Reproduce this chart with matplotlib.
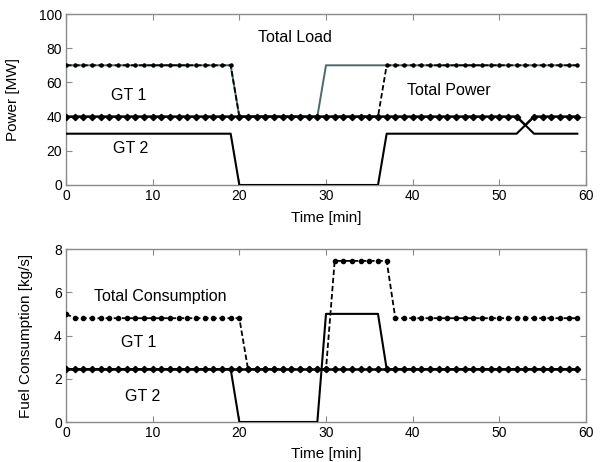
import matplotlib
matplotlib.use("Agg")
import matplotlib.pyplot as plt

plt.rcParams['font.family'] = ['Liberation Sans', 'DejaVu Sans']

time_min = list(range(60))

# Top panel: power [MW]
total_load = [70, 70, 70, 70, 70, 70, 70, 70, 70, 70, 70, 70, 70, 70, 70, 70, 70, 70, 70, 70,
              40, 40, 40, 40, 40, 40, 40, 40, 40, 40,
              70, 70, 70, 70, 70, 70, 70, 70, 70, 70, 70, 70, 70, 70, 70, 70, 70, 70, 70, 70,
              70, 70, 70, 70, 70, 70, 70, 70, 70, 70]
total_power = [70, 70, 70, 70, 70, 70, 70, 70, 70, 70, 70, 70, 70, 70, 70, 70, 70, 70, 70, 70,
               40, 40, 40, 40, 40, 40, 40, 40, 40, 40, 40, 40, 40, 40, 40, 40, 40,
               70, 70, 70, 70, 70, 70, 70, 70, 70, 70, 70, 70, 70, 70, 70, 70, 70, 70, 70, 70,
               70, 70, 70]
gt1_power = [40, 40, 40, 40, 40, 40, 40, 40, 40, 40, 40, 40, 40, 40, 40, 40, 40, 40, 40, 40,
             40, 40, 40, 40, 40, 40, 40, 40, 40, 40, 40, 40, 40, 40, 40, 40, 40, 40, 40, 40,
             40, 40, 40, 40, 40, 40, 40, 40, 40, 40, 40, 40, 40, 35, 40, 40, 40, 40, 40, 40]
gt2_power = [30, 30, 30, 30, 30, 30, 30, 30, 30, 30, 30, 30, 30, 30, 30, 30, 30, 30, 30, 30,
             0, 0, 0, 0, 0, 0, 0, 0, 0, 0, 0, 0, 0, 0, 0, 0, 0,
             30, 30, 30, 30, 30, 30, 30, 30, 30, 30, 30, 30, 30, 30, 30, 30, 35, 30, 30,
             30, 30, 30, 30]

# Bottom panel: fuel consumption [kg/s]
total_fuel = [5.0, 4.8, 4.8, 4.8, 4.8, 4.8, 4.8, 4.8, 4.8, 4.8, 4.8, 4.8, 4.8, 4.8, 4.8, 4.8,
              4.8, 4.8, 4.8, 4.8, 4.8,
              2.45, 2.45, 2.45, 2.45, 2.45, 2.45, 2.45, 2.45, 2.45, 2.45,
              7.45, 7.45, 7.45, 7.45, 7.45, 7.45, 7.45,
              4.8, 4.8, 4.8, 4.8, 4.8, 4.8, 4.8, 4.8, 4.8, 4.8, 4.8, 4.8, 4.8, 4.8, 4.8,
              4.8, 4.8, 4.8, 4.8, 4.8, 4.8, 4.8]
gt1_fuel = [2.45] * 60
gt2_fuel = [2.45, 2.45, 2.45, 2.45, 2.45, 2.45, 2.45, 2.45, 2.45, 2.45, 2.45, 2.45, 2.45, 2.45,
            2.45, 2.45, 2.45, 2.45, 2.45, 2.45,
            0, 0, 0, 0, 0, 0, 0, 0, 0, 0,
            5.0, 5.0, 5.0, 5.0, 5.0, 5.0, 5.0,
            2.45, 2.45, 2.45, 2.45, 2.45, 2.45, 2.45, 2.45, 2.45, 2.45, 2.45, 2.45, 2.45,
            2.45, 2.45, 2.45, 2.45, 2.45, 2.45, 2.45, 2.45, 2.45, 2.45]

x_ticks = [0, 10, 20, 30, 40, 50, 60]
top_yticks = [0, 20, 40, 60, 80, 100]
bot_yticks = [0, 2, 4, 6, 8]

fig = plt.figure(figsize=(6.01, 4.62), dpi=100)
ax1 = fig.add_axes([66 / 601, 1 - 185 / 462, 520 / 601, 171 / 462])
ax2 = fig.add_axes([66 / 601, 1 - 422 / 462, 520 / 601, 173 / 462])

def style(ax):
    for s in ax.spines.values():
        s.set_color('#8a8a8a')
        s.set_linewidth(1.0)
    ax.tick_params(direction='in', top=True, right=True, length=4, width=0.8,
                   color='#8a8a8a', labelsize=10, pad=3)
    ax.set_xlim(0, 60)
    ax.set_xticks(x_ticks)

gt1_marks = [i for i in range(len(time_min)) if i != 53]

# Top
ax1.plot(time_min, total_load, color='#4a6a6a', lw=1.4, zorder=2)
ax1.plot(time_min, total_power, color='black', lw=1.3, ls=(0, (3, 1.5)),
         marker='o', ms=2.2, zorder=3)
ax1.plot(time_min, gt1_power, color='black', lw=1.8, marker='D', ms=3.2,
         markevery=gt1_marks, zorder=4)
ax1.plot(time_min, gt2_power, color='black', lw=1.5, zorder=4)
style(ax1)
ax1.set_ylim(0, 100)
ax1.set_yticks(top_yticks)
ax1.set_xlabel('Time [min]', fontsize=11)
ax1.xaxis.set_label_coords(0.5, -0.15)
ax1.set_ylabel('Power [MW]', fontsize=11)
ax1.yaxis.set_label_coords(-0.088, 0.5)
ax1.text(26.4, 86, 'Total Load', fontsize=11.5, ha='center', va='center')
ax1.text(7.2, 52.6, 'GT 1', fontsize=11.5, ha='center', va='center')
ax1.text(7.5, 21.6, 'GT 2', fontsize=11.5, ha='center', va='center')
ax1.text(44.2, 55, 'Total Power', fontsize=11.5, ha='center', va='center')

# Bottom
ax2.plot(time_min, total_fuel, color='black', lw=1.3, ls=(0, (3, 1.5)),
         marker='o', ms=3, zorder=3)
ax2.plot(time_min, gt1_fuel, color='black', lw=1.8, marker='D', ms=3.2, zorder=4)
ax2.plot(time_min, gt2_fuel, color='black', lw=1.5, zorder=4)
style(ax2)
ax2.set_ylim(0, 8)
ax2.set_yticks(bot_yticks)
ax2.set_xlabel('Time [min]', fontsize=11)
ax2.xaxis.set_label_coords(0.5, -0.145)
ax2.set_ylabel('Fuel Consumption [kg/s]', fontsize=11)
ax2.yaxis.set_label_coords(-0.063, 0.5)
ax2.text(10.85, 5.79, 'Total Consumption', fontsize=11.5, ha='center', va='center')
ax2.text(8.4, 3.66, 'GT 1', fontsize=11.5, ha='center', va='center')
ax2.text(8.8, 1.16, 'GT 2', fontsize=11.5, ha='center', va='center')

fig.savefig('out.png', dpi=100)
